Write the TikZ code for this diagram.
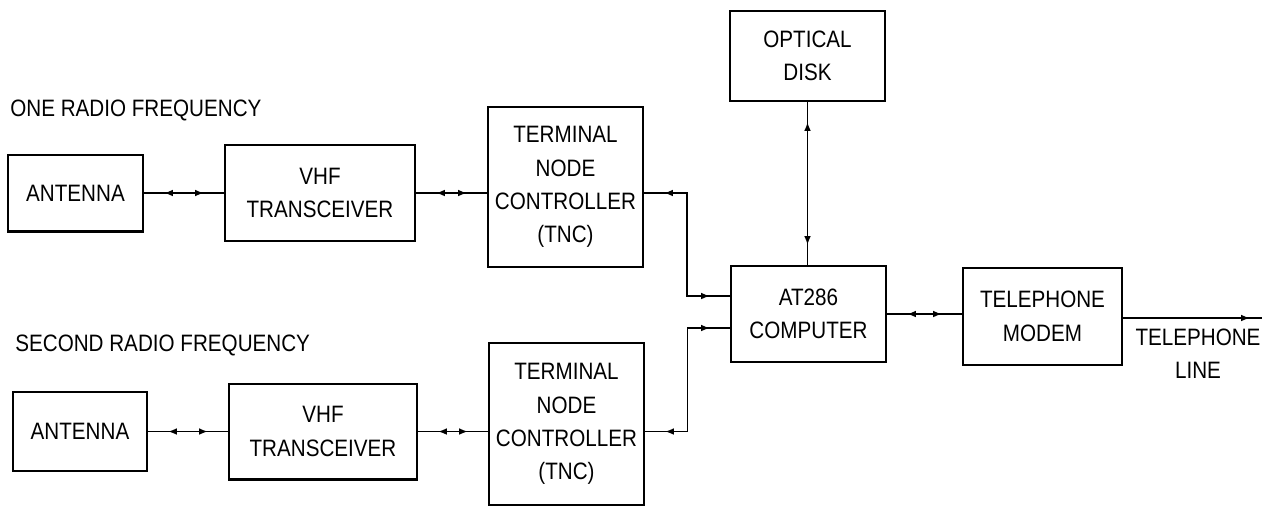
\documentclass[tikz,border=0pt]{standalone}
\usepackage{fontspec}
\setmainfont{Liberation Sans}[FakeStretch=0.87]
\usetikzlibrary{arrows.meta,positioning,calc,decorations.markings}

\begin{document}
\begin{tikzpicture}[
    x=0.02cm, y=-0.02cm,
    >={Latex[length=5pt,width=3.8pt]},
    box/.style={draw, line width=1.15pt, align=center, inner sep=1pt, font=\fontsize{13.5}{19}\selectfont},
    lbl/.style={align=center, inner sep=0pt, font=\fontsize{13.5}{19}\selectfont},
    bidir/.style={line width=1pt, postaction={decorate}, decoration={markings,
        mark=at position 0.4cm with {\arrowreversed{>}},
        mark=at position -0.4cm with {\arrow{>}}}},
    oneway/.style={line width=1pt, postaction={decorate}, decoration={markings,
        mark=at position -0.24cm with {\arrow{>}}}}
  ]
  \useasboundingbox (0,0) rectangle (1284,508);

  % first radio frequency
  \node[lbl, anchor=west] (rf1) at (10,110) {ONE RADIO FREQUENCY};
  \node[box, minimum width=2.7cm, minimum height=1.54cm] (ant1) at (75.5,193) {ANTENNA};
  \node[box, minimum width=3.8cm, minimum height=1.92cm, right=1.6cm of ant1] (vhf1) {VHF\\TRANSCEIVER};
  \node[box, minimum width=3.1cm, minimum height=3.2cm] (tnc1) at (565.5,187) {TERMINAL\\NODE\\CONTROLLER\\(TNC)};

  % second radio frequency
  \node[lbl, anchor=west] (rf2) at (15,345) {SECOND RADIO FREQUENCY};
  \node[box, minimum width=2.68cm, minimum height=1.58cm] (ant2) at (80,431.5) {ANTENNA};
  \node[box, minimum width=3.76cm, minimum height=1.92cm, right=1.6cm of ant2] (vhf2) {VHF\\TRANSCEIVER};
  \node[box, minimum width=3.1cm, minimum height=3.24cm] (tnc2) at (566.5,424) {TERMINAL\\NODE\\CONTROLLER\\(TNC)};

  % computer side
  \node[box, minimum width=3.1cm, minimum height=1.8cm] (disk) at (807.5,56) {OPTICAL\\DISK};
  \node[box, minimum width=3.1cm, minimum height=1.92cm] (at286) at (808.5,314) {AT286\\COMPUTER};
  \node[box, minimum width=3.18cm, minimum height=1.94cm] (modem) at (1042.5,316.5) {TELEPHONE\\MODEM};
  \node[lbl] (telline) at (1198,354) {TELEPHONE\\LINE};

  \coordinate (bus1) at ($(tnc1.east)!0.5!(at286.west)$);
  \coordinate (bus2) at ($(tnc2.east)!0.5!(at286.west)$);
  \coordinate (pcin1) at ([yshift=0.36cm]at286.west);
  \coordinate (pcin2) at ([yshift=-0.28cm]at286.west);
  \coordinate (lineend) at (1262,318);

  \draw[bidir] (ant1) -- (vhf1);
  \draw[bidir] (vhf1.east) -- (vhf1.east -| tnc1.west);
  \draw[bidir] (ant2) -- (vhf2);
  \draw[bidir] (vhf2.east) -- (vhf2.east -| tnc2.west);
  \draw[bidir] (tnc1.east |- vhf1.east) -| (bus1) |- (pcin1);
  \draw[bidir] (tnc2.east |- vhf2.east) -| (bus2) |- (pcin2);
  \draw[bidir] (disk.south) -- (disk.south |- at286.north);
  \draw[bidir] (at286.east) -- (at286.east -| modem.west);
  \draw[oneway] (modem.east |- lineend) -- (lineend);
\end{tikzpicture}
\end{document}
